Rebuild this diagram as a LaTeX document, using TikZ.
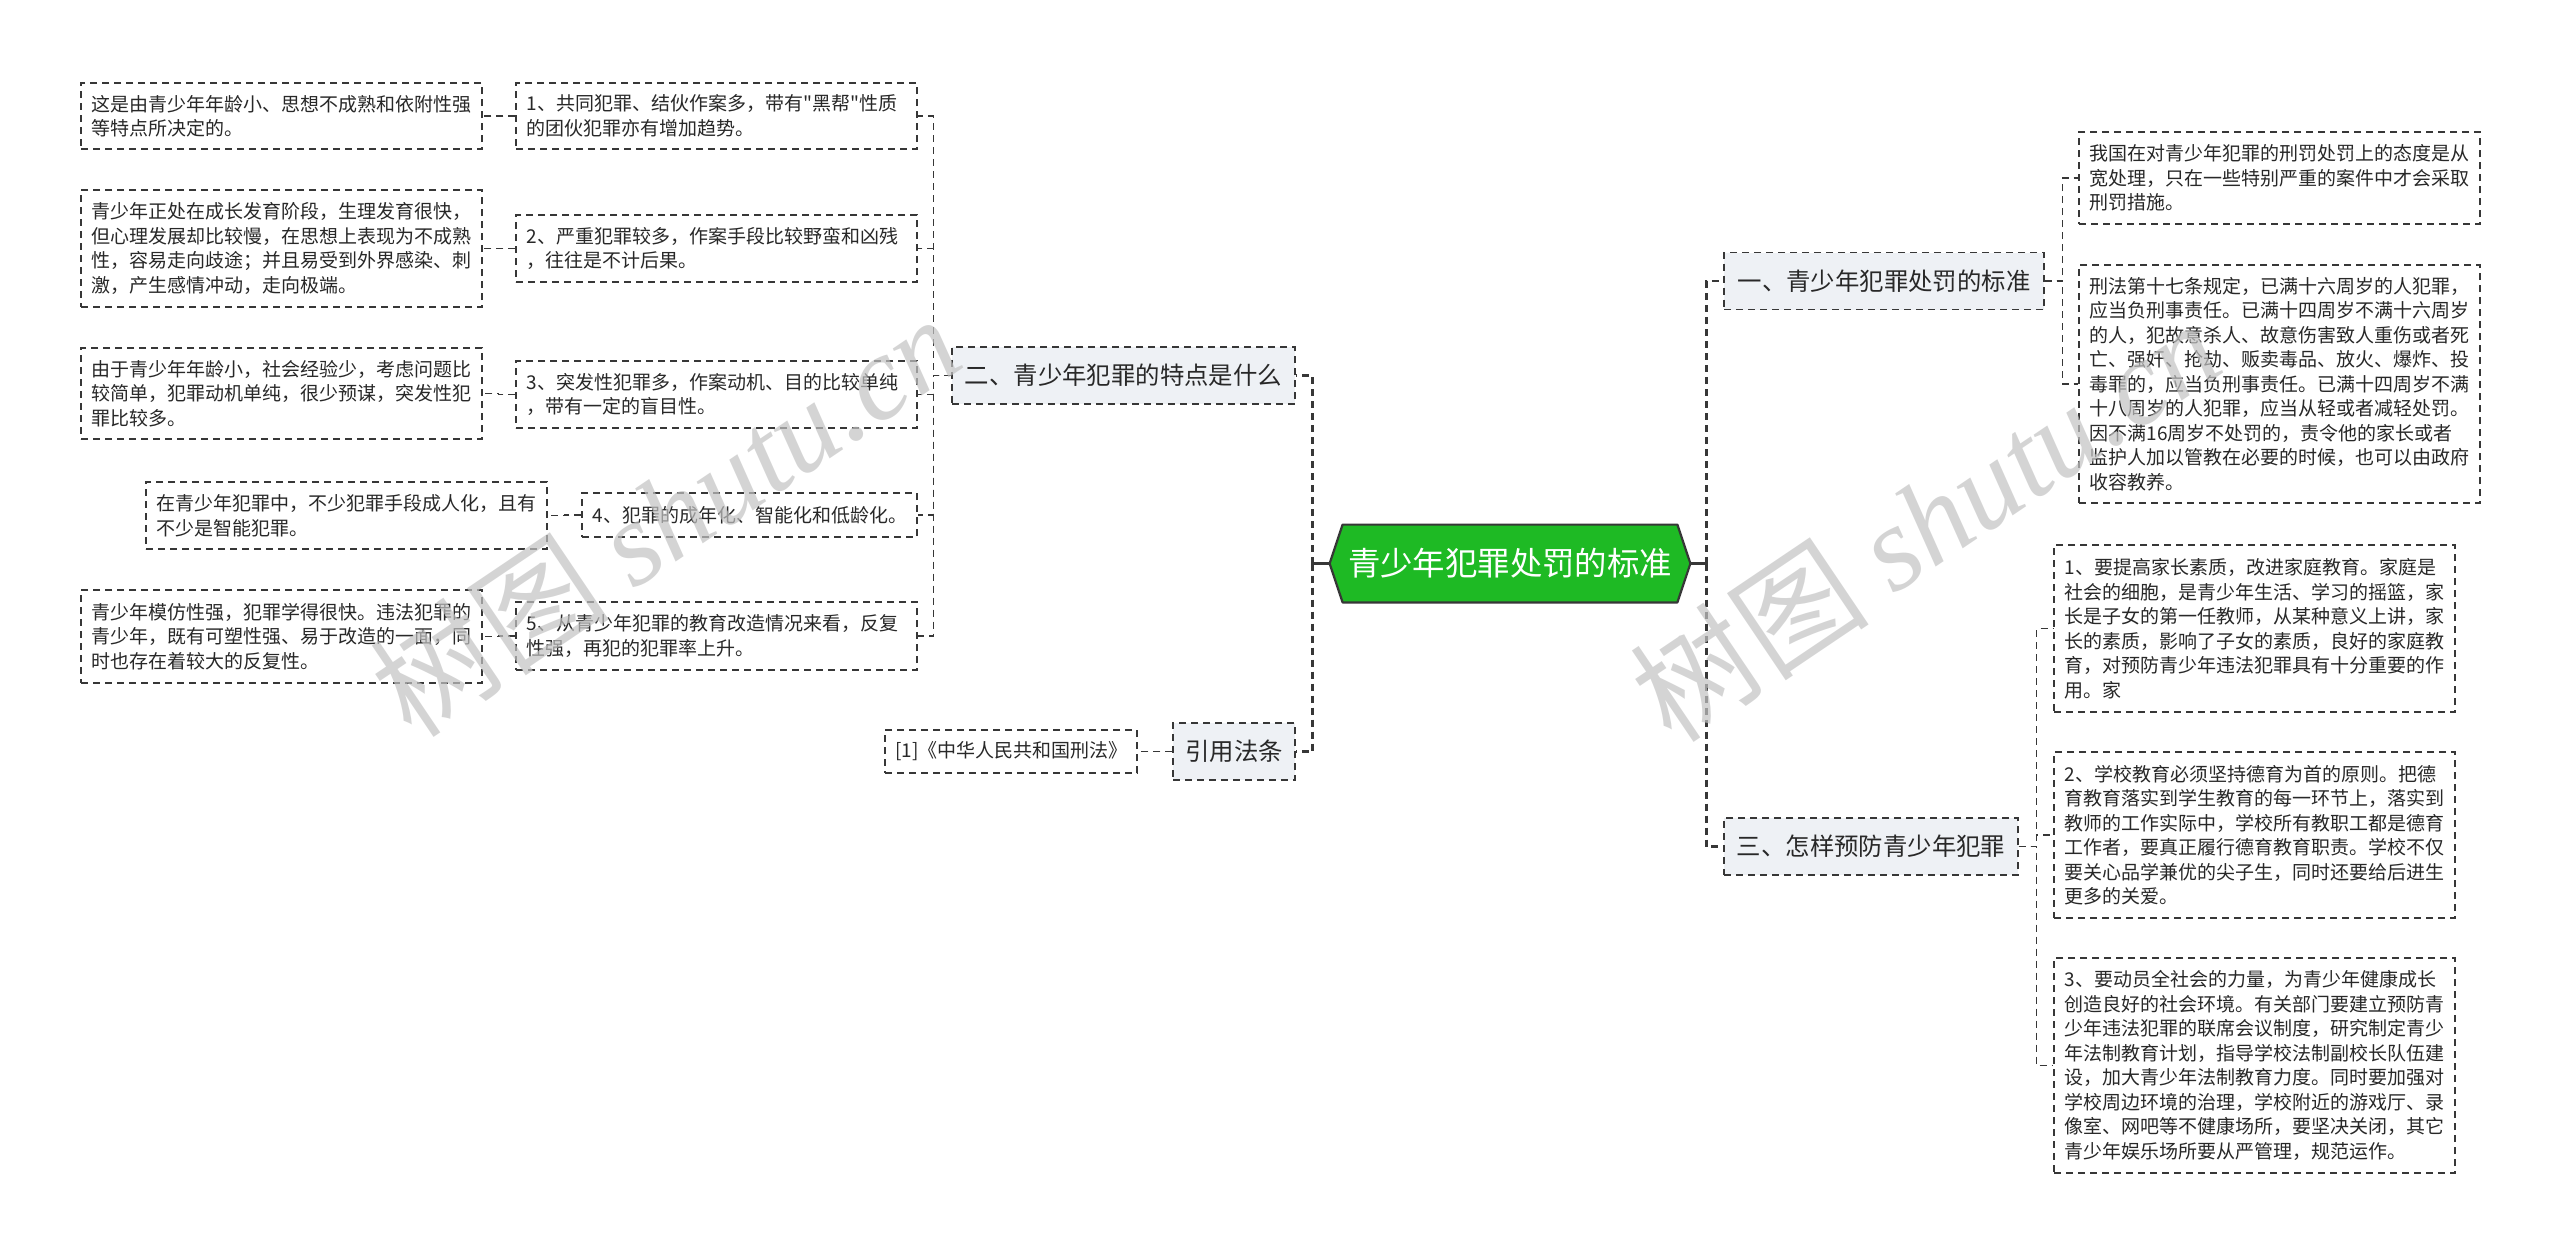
\documentclass[tikz,border=0pt]{standalone}
\usepackage{fontspec}
\setmainfont{Noto Sans CJK SC}
\newfontfamily\qfont{Noto Sans CJK SC}
\newfontfamily\wmlatin{Liberation Serif}
\usetikzlibrary{calc}
\pgfdeclarelayer{bg}
\pgfsetlayers{bg,main}
\definecolor{linec}{RGB}{55,55,55}
\definecolor{lvfill}{RGB}{238,241,245}
\definecolor{rootfill}{RGB}{30,186,36}
\definecolor{wmc}{RGB}{195,195,195}
\definecolor{txt}{RGB}{40,40,40}
\begin{document}
\begin{tikzpicture}[x=0.5pt,y=-0.5pt,
  leaf/.style={draw=linec, line width=0.65pt, dash pattern=on 3.5pt off 2.5pt, fill=white,
    text width=190pt, inner xsep=5.25pt, inner ysep=4pt, align=left,
    font=\fontsize{9.5pt}{12.25pt}\selectfont, text=txt},
  lvone/.style={draw=linec, line width=0.65pt, dash pattern=on 3.5pt off 2.5pt, fill=lvfill,
    inner xsep=0pt, inner ysep=0pt, minimum height=28.5pt,
    font=\fontsize{12.2pt}{14pt}\selectfont, text=txt},
  conn/.style={draw=linec, line width=0.7pt, dash pattern=on 3.5pt off 2.5pt},
  trunk/.style={draw=linec, line width=1.4pt, dash pattern=on 3.5pt off 2.5pt},
  wmark/.style={rotate=34, text=wmc, opacity=0.7, font=\fontsize{60pt}{64pt}\selectfont}
]
\useasboundingbox (0,0) rectangle (2560,1255);
\begin{pgfonlayer}{bg}
\fill[white] (0,0) rectangle (2560,1255);
\end{pgfonlayer}

% root
\node[minimum width=180pt, minimum height=38.5pt, inner sep=0pt,
  font=\fontsize{16.2pt}{18pt}\selectfont, text=white] (root) at (1510,563.5) {青少年犯罪处罚的标准};
\begin{pgfonlayer}{bg}
\draw[fill=rootfill, draw=linec, line width=1.1pt, line join=round]
  (root.west) -- ($(root.north west)+(13,0)$) -- ($(root.north east)+(-13,0)$) -- (root.east)
  -- ($(root.south east)+(-13,0)$) -- ($(root.south west)+(13,0)$) -- cycle;
\end{pgfonlayer}

% level one
\node[lvone, minimum width=171.5pt] (n2) at (1123.5,375.5) {二、青少年犯罪的特点是什么};
\node[lvone, minimum width=61pt] (ref) at (1234,751.5) {引用法条};
\node[lvone, minimum width=160pt] (n1) at (1884,281) {一、青少年犯罪处罚的标准};
\node[lvone, minimum width=147pt] (n3) at (1871,846.5) {三、怎样预防青少年犯罪};

% left branch: characteristics
\node[leaf, minimum height=33pt] (c1) at (716.5,116) {1、共同犯罪、结伙作案多，带有{\qfont"}黑帮{\qfont"}性质\\的团伙犯罪亦有增加趋势。};
\node[leaf, minimum height=33.5pt] (c2) at (716.5,248.5) {2、严重犯罪较多，作案手段比较野蛮和凶残\\，往往是不计后果。};
\node[leaf, minimum height=33.5pt] (c3) at (716.5,394.5) {3、突发性犯罪多，作案动机、目的比较单纯\\，带有一定的盲目性。};
\node[leaf, text width=157pt, minimum height=22pt] (c4) at (749.5,515) {4、犯罪的成年化、智能化和低龄化。};
\node[leaf, minimum height=34pt] (c5) at (716.5,636) {5、从青少年犯罪的教育改造情况来看，反复\\性强，再犯的犯罪率上升。};

\node[leaf, minimum height=33pt] (l1) at (281.5,116) {这是由青少年年龄小、思想不成熟和依附性强\\等特点所决定的。};
\node[leaf, minimum height=58.5pt] (l2) at (281.5,248.5) {青少年正处在成长发育阶段，生理发育很快，\\但心理发展却比较慢，在思想上表现为不成熟\\性，容易走向歧途；并且易受到外界感染、刺\\激，产生感情冲动，走向极端。};
\node[leaf, minimum height=45.5pt] (l3) at (281.5,393.5) {由于青少年年龄小，社会经验少，考虑问题比\\较简单，犯罪动机单纯，很少预谋，突发性犯\\罪比较多。};
\node[leaf, minimum height=33.5pt] (l4) at (346.5,515.5) {在青少年犯罪中，不少犯罪手段成人化，且有\\不少是智能犯罪。};
\node[leaf, minimum height=46.5pt] (l5) at (281.5,636.5) {青少年模仿性强，犯罪学得很快。违法犯罪的\\青少年，既有可塑性强、易于改造的一面，同\\时也存在着较大的反复性。};

\node[leaf, text width=115.5pt, minimum height=21.5pt] (cite) at (1011,751.5) {[1]《中华人民共和国刑法》};

% right branch
\node[leaf, minimum height=46pt] (r1) at (2279.5,178) {我国在对青少年犯罪的刑罚处罚上的态度是从\\宽处理，只在一些特别严重的案件中才会采取\\刑罚措施。};
\node[leaf, minimum height=119pt] (r2) at (2279.5,384) {刑法第十七条规定，已满十六周岁的人犯罪，\\应当负刑事责任。已满十四周岁不满十六周岁\\的人，犯故意杀人、故意伤害致人重伤或者死\\亡、强奸、抢劫、贩卖毒品、放火、爆炸、投\\毒罪的，应当负刑事责任。已满十四周岁不满\\十八周岁的人犯罪，应当从轻或者减轻处罚。\\因不满16周岁不处罚的，责令他的家长或者\\监护人加以管教在必要的时候，也可以由政府\\收容教养。};
\node[leaf, minimum height=83.5pt] (p1) at (2254.5,628.5) {1、要提高家长素质，改进家庭教育。家庭是\\社会的细胞，是青少年生活、学习的摇篮，家\\长是子女的第一任教师，从某种意义上讲，家\\长的素质，影响了子女的素质，良好的家庭教\\育，对预防青少年违法犯罪具有十分重要的作\\用。家};
\node[leaf, minimum height=83pt] (p2) at (2254.5,835) {2、学校教育必须坚持德育为首的原则。把德\\育教育落实到学生教育的每一环节上，落实到\\教师的工作实际中，学校所有教职工都是德育\\工作者，要真正履行德育教育职责。学校不仅\\要关心品学兼优的尖子生，同时还要给后进生\\更多的关爱。};
\node[leaf, minimum height=107.5pt] (p3) at (2254.5,1065.5) {3、要动员全社会的力量，为青少年健康成长\\创造良好的社会环境。有关部门要建立预防青\\少年违法犯罪的联席会议制度，研究制定青少\\年法制教育计划，指导学校法制副校长队伍建\\设，加大青少年法制教育力度。同时要加强对\\学校周边环境的治理，学校附近的游戏厅、录\\像室、网吧等不健康场所，要坚决关闭，其它\\青少年娱乐场所要从严管理，规范运作。};

% connectors
\draw[draw=linec, line width=1.4pt] (root.west) -- ++(-17,0);
\draw[draw=linec, line width=1.4pt] (root.east) -- ++(16,0);
\draw[trunk] (root.west) ++(-17,0) |- (n2.east);
\draw[trunk] (root.west) ++(-17,0) |- (ref.east);
\draw[trunk] (root.east) ++(16,0) |- (n1.west);
\draw[trunk] (root.east) ++(16,0) |- (n3.west);

\foreach \c in {c1,c2,c3,c4,c5}{\draw[conn] (n2.west) -- ++(-18,0) |- (\c.east);}
\draw[conn] (c1.west) -- ++(-17,0) |- (l1.east);
\draw[conn] (c2.west) -- ++(-17,0) |- (l2.east);
\draw[conn] (c3.west) -- ++(-17,0) |- (l3.east);
\draw[conn] (c4.west) -- ++(-17,0) |- (l4.east);
\draw[conn] (c5.west) -- ++(-17,0) |- (l5.east);
\draw[conn] (ref.west) -- ++(-18,0) |- (cite.east);

\foreach \c in {r1,r2}{\draw[conn] (n1.east) -- ++(18,0) |- (\c.west);}
\foreach \c in {p1,p2,p3}{\draw[conn] (n3.east) -- ++(18,0) |- (\c.west);}

% watermarks
\node[wmark] (wm1) at (665,515) {树图 {\wmlatin\itshape shutu.cn}};
\node[wmark] (wm2) at (1925,520) {树图 {\wmlatin\itshape shutu.cn}};
\end{tikzpicture}
\end{document}
